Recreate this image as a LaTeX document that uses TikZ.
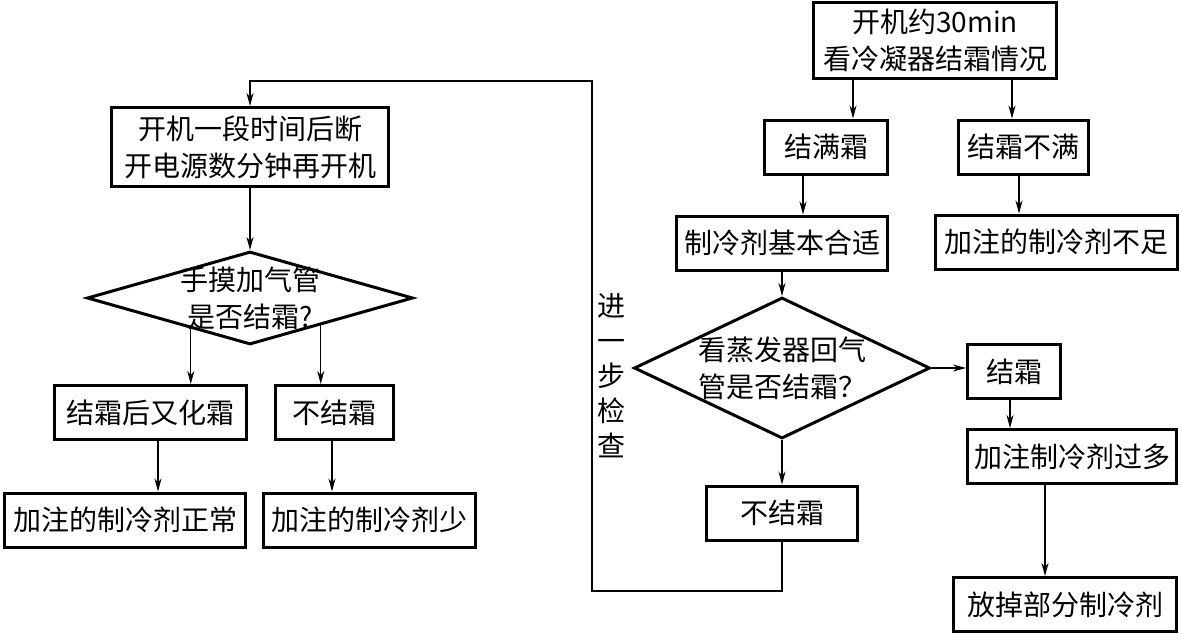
\documentclass[tikz,border=0pt]{standalone}
\usepackage{fontspec}
\setmainfont{Noto Sans CJK SC}
\usetikzlibrary{arrows.meta, shapes.geometric, positioning, calc}

\begin{document}
\begin{tikzpicture}[x=1pt, y=-1pt, font=\fontsize{28}{37}\selectfont,
	flowbox/.style={draw, line width=3pt, align=center, inner sep=0pt, minimum height=54pt},
	decide/.style={draw, diamond, line width=3pt, align=center, inner sep=-6pt},
	link/.style={line width=1.2pt, -{Stealth[length=13pt, width=7pt, inset=4pt]}}]
	\useasboundingbox (0,0) rectangle (1182,633);
	% Right branch: condenser check
	\node[flowbox, minimum width=243pt, minimum height=76pt] (start) at (935,40.5) {开机约30min\\看冷凝器结霜情况};
	\node[flowbox, minimum width=123pt] (full) at (826,147) {结满霜};
	\node[flowbox, minimum width=130pt] (partial) at (1023.5,147) {结霜不满};
	\node[flowbox, minimum width=211pt] (fine) at (782,243) {制冷剂基本合适};
	\node[flowbox, minimum width=242pt] (lack) at (1056.5,242) {加注的制冷剂不足};
	% Evaporator return pipe
	\node[decide, minimum width=296pt, minimum height=141pt, aspect=2.1] (evap) at (782,368) {看蒸发器回气\\管是否结霜？};
	\node[flowbox, minimum width=93pt] (frost) at (1014,371.5) {结霜};
	\node[flowbox, minimum width=209pt] (toomuch) at (1072,456.5) {加注制冷剂过多};
	\node[flowbox, minimum width=223pt] (drain) at (1065,604.5) {放掉部分制冷剂};
	\node[flowbox, minimum width=151pt] (nofrost) at (782,513) {不结霜};
	% Left branch: further check
	\node[flowbox, minimum width=277pt, minimum height=79pt] (restart) at (250,147) {开机一段时间后断\\开电源数分钟再开机};
	\node[decide, minimum width=326pt, minimum height=93pt, aspect=3.5] (pipe) at (250,298) {手摸加气管\\是否结霜?};
	\node[flowbox, minimum width=192pt] (melt) at (150.5,412.5) {结霜后又化霜};
	\node[flowbox, minimum width=118pt] (nofrostl) at (334.5,412.5) {不结霜};
	\node[flowbox, minimum width=241pt] (normal) at (125,520) {加注的制冷剂正常};
	\node[flowbox, minimum width=212pt] (less) at (369.5,520) {加注的制冷剂少};
	\node[align=center, font=\fontsize{28}{35}\selectfont] (further) at (611,376) {进\\一\\步\\检\\查};
	% connectors
	\draw[link] (start.south -| 853,0) -- (853,0 |- full.north);
	\draw[link] (start.south -| 1012,0) -- (1012,0 |- partial.north);
	\draw[link] (full.south -| 803,0) -- (803,0 |- fine.north);
	\draw[link] (partial.south -| 1019,0) -- (1019,0 |- lack.north);
	\draw[link] (fine.south) -- (evap.north);
	\draw[link] (evap.east) -- (evap.east -| frost.west);
	\draw[link] (frost.south -| 1010,0) -- (1010,0 |- toomuch.north);
	\draw[link] (toomuch.south -| 1045,0) -- (1045,0 |- drain.north);
	\draw[link] (evap.south) -- (nofrost.north);
	\coordinate (lowturn) at (592,591);
	\coordinate (topturn) at (250,81);
	\draw[link] (nofrost.south) |- (lowturn) |- (topturn) -- (restart.north);
	\draw[link] (restart.south) -- (pipe.north);
	\path ($(pipe.west)!0.64!(pipe.south)$) coordinate (pipel);
	\path ($(pipe.south)!0.43!(pipe.east)$) coordinate (piper);
	\draw[link] (pipel) -- (pipel |- melt.north);
	\draw[link] (piper) -- (piper |- nofrostl.north);
	\draw[link] (melt.south -| 158,0) -- (158,0 |- normal.north);
	\draw[link] (nofrostl.south -| 332,0) -- (332,0 |- less.north);
\end{tikzpicture}
\end{document}
